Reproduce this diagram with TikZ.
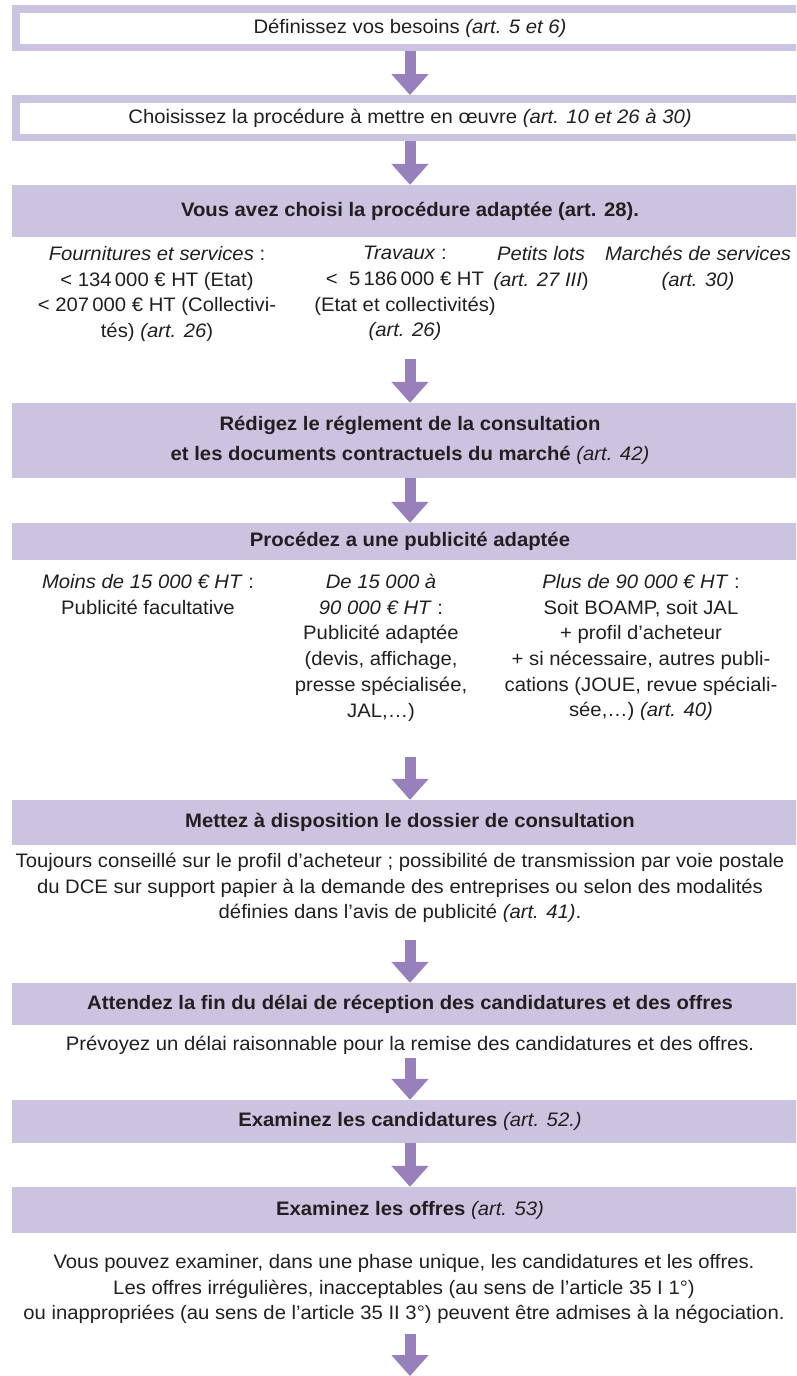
\documentclass[tikz,border=0pt]{standalone}
\usepackage{fontspec}
\setmainfont{Liberation Sans}[FakeStretch=1.04]
\usetikzlibrary{arrows.meta}
\definecolor{lav}{RGB}{203,195,224}
\definecolor{arr}{RGB}{152,128,188}
\definecolor{ink}{RGB}{35,31,32}
\tikzset{
  base/.style={text=ink, inner sep=0pt, font=\fontsize{19.5}{25.7}\selectfont},
  outbox/.style={base, draw=lav, line width=7.5pt, fill=white, minimum width=788.5pt, align=center},
  fillbox/.style={base, fill=lav, minimum width=796pt, align=center, font=\fontsize{19.5}{30}\selectfont\bfseries},
  col/.style={base, align=center, anchor=north, execute at begin node=\strut},
  bigarrow/.style={draw=arr, line width=11pt, -{Triangle[width=36pt,length=21pt]}}
}
\begin{document}
\begin{tikzpicture}[x=1pt,y=-1pt]
\useasboundingbox (0,0) rectangle (796,1376);
\clip (0,0) rectangle (796,1376);
\fill[white] (0,0) rectangle (796,1376);
% boxes
\node[outbox, minimum height=38.5pt] (b1) at (410,28) {Définissez vos besoins \textit{(art. 5 et 6)}};
\node[outbox, minimum height=38.5pt] (b2) at (410,118) {Choisissez la procédure à mettre en œuvre \textit{(art. 10 et 26 à 30)}};
\node[fillbox, minimum height=52pt] (b3) at (410,211) {Vous avez choisi la procédure adaptée (art. 28).};
\node[col] (c1) at (157,246) {\textit{Fournitures et services} :\\ < 134\,000 € HT (Etat)\\ < 207\,000 € HT (Collectivi-\\ tés) \textit{(art. 26})};
\node[col] (c2) at (405,246) {\textit{Travaux} :\\ <~ 5\,186\,000 € HT\\ (Etat et collectivités)\\ \textit{(art. 26)}};
\node[col] (c3) at (541,246) {\textit{Petits lots}\\ \textit{(art. 27 III})};
\node[col] (c4) at (698,246) {\textit{Marchés de services}\\ \textit{(art. 30)}};
\node[fillbox, minimum height=75pt] (b4) at (410,440.5) {Rédigez le réglement de la consultation\\ et les documents contractuels du marché \textmd{\textit{(art. 42)}}};
\node[fillbox, minimum height=37pt] (b5) at (410,541.5) {Procédez a une publicité adaptée};
\node[col] (d1) at (148,574) {\textit{Moins de 15 000 € HT} :\\ Publicité facultative};
\node[col] (d2) at (381,574) {\textit{De 15 000 à}\\ \textit{90 000 € HT} :\\ Publicité adaptée\\ (devis, affichage,\\ presse spécialisée,\\ JAL,…)};
\node[col] (d3) at (641,574) {\textit{Plus de 90 000 € HT} :\\ Soit BOAMP, soit JAL\\ + profil d’acheteur\\ + si nécessaire, autres publi-\\ cations (JOUE, revue spéciali-\\ sée,…) \textit{(art. 40)}};
\node[fillbox, minimum height=45pt] (b6) at (410,822.5) {Mettez à disposition le dossier de consultation};
\node[col] (t6) at (400,853) {Toujours conseillé sur le profil d’acheteur ; possibilité de transmission par voie postale\\ du DCE sur support papier à la demande des entreprises ou selon des modalités\\ définies dans l’avis de publicité \textit{(art. 41)}.};
\node[fillbox, minimum height=42pt] (b7) at (410,1004) {Attendez la fin du délai de réception des candidatures et des offres};
\node[col] (t7) at (410,1032) {Prévoyez un délai raisonnable pour la remise des candidatures et des offres.};
\node[fillbox, minimum height=43pt] (b8) at (410,1121.5) {Examinez les candidatures \textmd{\textit{(art. 52.)}}};
\node[fillbox, minimum height=46pt] (b9) at (410,1210) {Examinez les offres \textmd{\textit{(art. 53)}}};
\node[col] (t9) at (404,1254) {Vous pouvez examiner, dans une phase unique, les candidatures et les offres.\\ Les offres irrégulières, inacceptables (au sens de l’article 35 I 1°)\\ ou inappropriées (au sens de l’article 35 II 3°) peuvent être admises à la négociation.};
% arrows
\draw[bigarrow] (b1.south) -- (b2.north);
\draw[bigarrow] (b2.south) -- (b3.north);
\draw[bigarrow] ([yshift=44pt]b4.north) -- (b4.north);
\draw[bigarrow] (b4.south) -- (b5.north);
\draw[bigarrow] ([yshift=43pt]b6.north) -- (b6.north);
\draw[bigarrow] ([yshift=43pt]b7.north) -- (b7.north);
\draw[bigarrow] ([yshift=42pt]b8.north) -- (b8.north);
\draw[bigarrow] (b8.south) -- (b9.north);
\coordinate (fa) at (410,1334);
\coordinate (fb) at (410,1376);
\draw[bigarrow] (fa) -- (fb);
\end{tikzpicture}
\end{document}
